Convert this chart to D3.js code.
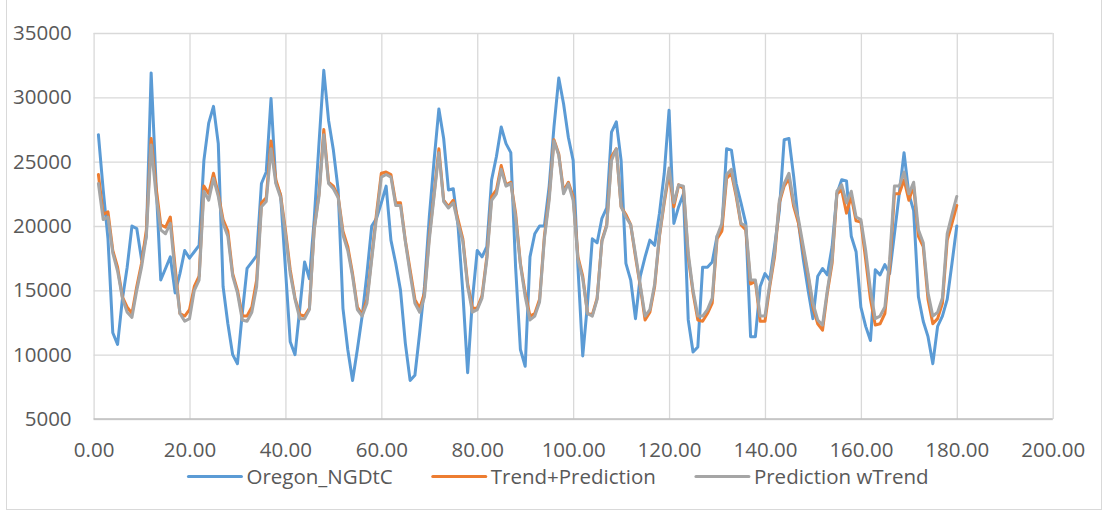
<!DOCTYPE html>
<html lang="en">
<head>
    <meta charset="UTF-8">
    <title>Oregon NGDtC</title>
    <style>
        body {
            margin: 0;
            background: #fff;
        }

        text {
            font-family: "Open Sans", sans-serif;
            fill: #595959;
        }
    </style>
    <script src="https://cdn.jsdelivr.net/npm/d3@7"></script>
</head>
<body>
<svg class="chart"></svg>
<script>
    const
        period = d3.range(1, 181),
        oregon = [
            27100, 22800, 19000, 11700, 10800, 14300, 16800, 20000, 19800, 17400, 19200, 31900,
            23500, 15800, 16700, 17600, 14800, 16300, 18100, 17500, 18000, 18500, 25100, 28000,
            29300, 26400, 15300, 12400, 10000, 9300, 13200, 16700, 17200, 17700, 23300, 24200,
            29900, 23400, 22400, 16700, 11000, 10000, 13600, 17200, 15900, 20500, 26400, 32100,
            28200, 25900, 22800, 13600, 10400, 8000, 10400, 13000, 16300, 20000, 20600, 21800,
            23100, 18900, 17100, 15000, 10900, 8000, 8400, 11700, 15300, 20700, 25100, 29100,
            26800, 22800, 22900, 20000, 14800, 8600, 14300, 18100, 17600, 18400, 23600, 25400,
            27700, 26400, 25700, 16800, 10400, 9100, 17600, 19400, 20000, 20000, 23100, 27700,
            31500, 29500, 26900, 25100, 16800, 9900, 14000, 19000, 18700, 20600, 21400, 27300,
            28100, 25100, 17100, 15800, 12800, 16100, 17600, 18900, 18500, 21000, 24100, 29000,
            20200, 21500, 22500, 12700, 10200, 10600, 16800, 16800, 17200, 19200, 19700, 26000,
            25900, 23300, 21800, 20200, 11400, 11400, 15300, 16300, 15800, 18400, 21200, 26700,
            26800, 23800, 20200, 17400, 15000, 12800, 16100, 16700, 16200, 18400, 22500, 23600,
            23500, 19200, 18000, 13700, 12200, 11100, 16600, 16200, 17000, 16300, 19400, 22500,
            25700, 22500, 21200, 14500, 12600, 11400, 9300, 12200, 13000, 14300, 17100, 20000
        ],
        trendPrediction = [
            24000, 20900, 21100, 18100, 16800, 14500, 13700, 13200, 15300, 17100, 19700, 26800,
            23100, 20100, 19900, 20700, 16800, 13200, 13000, 13500, 15300, 16100, 23100, 22500,
            24100, 22500, 20500, 19600, 16300, 15000, 13000, 13000, 13700, 15800, 21800, 22200,
            26600, 23600, 22400, 19700, 16600, 14400, 13100, 13000, 13600, 19800, 22500, 27500,
            23400, 23100, 22300, 19600, 18400, 16300, 13700, 13100, 14300, 17600, 21000, 24100,
            24200, 24000, 21800, 21800, 18900, 16600, 14300, 13600, 14800, 19200, 22500, 26000,
            22000, 21500, 22000, 20500, 19000, 15500, 13600, 13600, 14600, 17600, 22300, 22800,
            24700, 23200, 23400, 21000, 17100, 14800, 13000, 13200, 14300, 19200, 22300, 26700,
            25600, 22700, 23400, 22300, 17600, 16100, 13200, 13100, 14400, 18900, 20100, 25400,
            26000, 21500, 20900, 20100, 17600, 15300, 12700, 13300, 15300, 19200, 21800, 24100,
            21500, 23200, 22900, 17600, 14800, 12700, 12600, 13200, 14000, 19000, 19600, 23700,
            24100, 22300, 20100, 19700, 15500, 15700, 12600, 12600, 15300, 17600, 21800, 23100,
            23700, 21500, 20200, 18100, 16100, 13700, 12400, 11900, 14800, 17100, 22500, 22800,
            21000, 22300, 20400, 20300, 17400, 14300, 12300, 12400, 13200, 16800, 22500, 22500,
            23600, 22000, 23100, 19200, 18400, 14300, 12400, 12800, 14000, 18900, 20200, 21600
        ],
        predictionWTrend = [
            23300, 20500, 20700, 17900, 16500, 14400, 13300, 12900, 15000, 16800, 19200, 26300,
            22500, 19700, 19400, 20200, 16300, 13200, 12600, 12800, 15000, 15800, 22700, 22000,
            23700, 22300, 20200, 19200, 16100, 14800, 12700, 12600, 13300, 15300, 21500, 21900,
            26000, 23300, 22200, 19400, 16300, 14300, 12800, 12800, 13500, 19700, 22300, 27100,
            23300, 22900, 22200, 19300, 18100, 16100, 13500, 13000, 14000, 17400, 20700, 23800,
            24000, 23800, 21600, 21600, 18800, 16300, 14000, 13300, 14500, 18900, 22300, 25700,
            21900, 21400, 21800, 20200, 18800, 15300, 13300, 13500, 14400, 17400, 22000, 22500,
            24400, 23100, 23300, 20700, 17000, 14500, 12700, 13000, 14100, 19000, 22000, 26600,
            25500, 22500, 23300, 22000, 17400, 15900, 13200, 13000, 14300, 18800, 20000, 25100,
            26000, 21500, 20700, 20100, 17800, 15400, 13000, 13500, 15500, 19300, 22000, 24500,
            21800, 23200, 23100, 17900, 15000, 13000, 13000, 13500, 14400, 19200, 20200, 24000,
            24400, 22500, 20200, 20000, 15800, 15800, 13000, 13000, 15500, 17900, 22000, 23300,
            24100, 21800, 20500, 18400, 16300, 14000, 12700, 12300, 15000, 17400, 22700, 23200,
            21800, 22700, 20700, 20500, 18100, 15000, 12800, 13000, 13700, 17400, 23100, 23100,
            24200, 22500, 23400, 19700, 18700, 14800, 13000, 13300, 14400, 19400, 20900, 22300
        ],
        seriesNames = ['Oregon_NGDtC', 'Trend+Prediction', 'Prediction wTrend'],
        seriesColors = ['#5b9bd5', '#ed7d31', '#a5a5a5'],
        xTicks = d3.range(0, 201, 20),
        yTicks = d3.range(5000, 35001, 5000);

    const
        width = 1103,
        height = 515,
        fontSize = '20.5px',
        plot = {left: 93.6, right: 1052.7, top: 33, bottom: 419};

    let svg = d3.select('.chart')
        .attr('width', width)
        .attr('height', height);

    // chart frame (top edge sits outside the picture)
    svg.append('rect')
        .attr('x', 6.5).attr('y', -5)
        .attr('width', 1095).attr('height', 514.5)
        .attr('fill', 'none')
        .attr('stroke', '#d9d9d9');

    let x = d3.scaleLinear().domain([0, 200]).range([plot.left, plot.right]),
        y = d3.scaleLinear().domain([5000, 35000]).range([plot.bottom, plot.top]);

    // y axis + horizontal grid
    let yAxis = d3.axisLeft(y)
        .tickValues(yTicks)
        .tickFormat(d3.format('d'))
        .tickSize(-(plot.right - plot.left))
        .tickPadding(22);
    let gy = svg.append('g')
        .attr('transform', 'translate(' + plot.left + ',0)')
        .call(yAxis);
    gy.select('.domain').remove();
    gy.selectAll('line').attr('stroke', '#d9d9d9').attr('stroke-width', 1.3);
    gy.selectAll('text').style('font-size', fontSize);

    // x axis + vertical grid
    let xAxis = d3.axisBottom(x)
        .tickValues(xTicks)
        .tickFormat(d3.format('.2f'))
        .tickSize(-(plot.bottom - plot.top))
        .tickPadding(23);
    let gx = svg.append('g')
        .attr('transform', 'translate(0,' + plot.bottom + ')')
        .call(xAxis);
    gx.select('.domain').remove();
    gx.selectAll('line').attr('stroke', '#d9d9d9').attr('stroke-width', 1.3);
    gx.selectAll('text').style('font-size', fontSize);

    // bottom axis line a touch darker
    svg.append('line')
        .attr('x1', plot.left).attr('x2', plot.right)
        .attr('y1', plot.bottom).attr('y2', plot.bottom)
        .attr('stroke', '#bfbfbf').attr('stroke-width', 1.3);

    let line = d3.line()
        .x((d, i) => x(period[i]))
        .y(d => y(d));

    [oregon, trendPrediction, predictionWTrend].forEach((s, k) => {
        svg.append('path')
            .datum(s)
            .attr('d', line)
            .attr('fill', 'none')
            .attr('stroke', seriesColors[k])
            .attr('stroke-width', 3)
            .attr('stroke-linejoin', 'round')
            .attr('stroke-linecap', 'round');
    });

    // legend, centred under the plot
    let legend = svg.append('g'),
        cursor = 0;
    seriesNames.forEach((name, k) => {
        let item = legend.append('g').attr('transform', 'translate(' + cursor + ',0)');
        item.append('line')
            .attr('x1', 0).attr('x2', 53)
            .attr('y1', 0).attr('y2', 0)
            .attr('stroke', seriesColors[k])
            .attr('stroke-width', 3)
            .attr('stroke-linecap', 'round');
        let t = item.append('text')
            .attr('x', 58)
            .attr('dy', '0.35em')
            .style('font-size', fontSize)
            .text(name);
        cursor += 58 + t.node().getComputedTextLength() + 40;
    });
    let legendWidth = cursor - 40;
    legend.attr('transform', 'translate(' + (558.5 - legendWidth / 2) + ',476.5)');
</script>
</body>
</html>
